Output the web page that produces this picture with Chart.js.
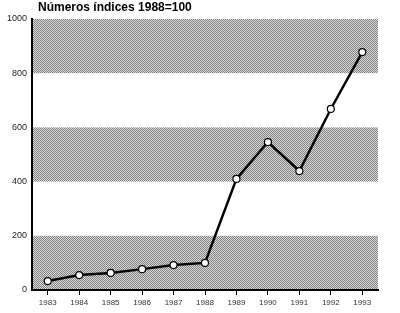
<!DOCTYPE html>
<html>
<head>
<meta charset="utf-8">
<script src="https://cdn.jsdelivr.net/npm/chart.js@4/dist/chart.umd.min.js"></script>
<style>
    html, body { margin: 0; padding: 0; background: #fff; }
    #wrap { position: relative; width: 400px; height: 313px; }
    #title {
        position: absolute; left: 38px; top: 0px;
        font: bold 12px "Liberation Sans", Arial, sans-serif; color: #000;
    }
</style>
</head>
<body>
<div id="wrap">
    <div id="title">Números índices 1988=100</div>
    <canvas id="chart" width="400" height="313"></canvas>
</div>
<script>
const years = ['1983', '1984', '1985', '1986', '1987', '1988', '1989', '1990', '1991', '1992', '1993'];
const indexValues = [33, 55, 63, 77, 92, 100, 410, 546, 439, 668, 878];
const yTicks = [0, 200, 400, 600, 800, 1000];
const bandRanges = [[0, 200], [400, 600], [800, 1000]];

// halftone-looking fill for the grey bands
function makePattern(ctx) {
    const c = document.createElement('canvas');
    c.width = 2; c.height = 2;
    const g = c.getContext('2d');
    g.fillStyle = '#dadada';
    g.fillRect(0, 0, 2, 2);
    g.fillStyle = '#828282';
    g.fillRect(0, 0, 1, 1);
    g.fillRect(1, 1, 1, 1);
    return ctx.createPattern(c, 'repeat');
}

const bandsPlugin = {
    id: 'bands',
    beforeDraw(chart) {
        const { ctx, chartArea, scales } = chart;
        ctx.save();
        ctx.fillStyle = makePattern(ctx);
        bandRanges.forEach(([lo, hi]) => {
            const yTop = scales.y.getPixelForValue(hi);
            const yBot = scales.y.getPixelForValue(lo);
            ctx.fillRect(chartArea.left, yTop, chartArea.right - chartArea.left, yBot - yTop);
        });
        ctx.restore();
    }
};

new Chart(document.getElementById('chart'), {
    type: 'line',
    data: {
        labels: years,
        datasets: [{
            data: indexValues,
            borderColor: '#000',
            borderWidth: 2.5,
            backgroundColor: '#fff',
            pointBackgroundColor: '#fff',
            pointBorderColor: '#000',
            pointBorderWidth: 1.2,
            pointRadius: 3.5,
            tension: 0
        }]
    },
    options: {
        responsive: false,
        animation: false,
        layout: { padding: { top: 19, right: 22, left: 0, bottom: 0 } },
        plugins: {
            legend: { display: false },
            title: { display: false },
            tooltip: { enabled: false }
        },
        scales: {
            x: {
                offset: true,
                grid: { display: true, drawOnChartArea: false, drawTicks: true, tickLength: 5, color: '#000', offset: false },
                border: { display: true, color: '#000', width: 2 },
                ticks: { color: '#333', font: { size: 8, family: 'Liberation Sans' }, padding: 3, maxRotation: 0, autoSkip: false },
                afterFit(scale) { scale.height = 23; }
            },
            y: {
                min: 0,
                max: 1000,
                afterBuildTicks(scale) { scale.ticks = yTicks.map(v => ({ value: v })); },
                grid: { display: false, drawTicks: false },
                border: { display: true, color: '#000', width: 2 },
                ticks: {
                    color: '#222',
                    font: { size: 9, family: 'Liberation Sans' },
                    padding: 5,
                    callback: v => String(v)
                },
                afterFit(scale) { scale.width = 32; }
            }
        }
    },
    plugins: [bandsPlugin]
});
</script>
</body>
</html>
